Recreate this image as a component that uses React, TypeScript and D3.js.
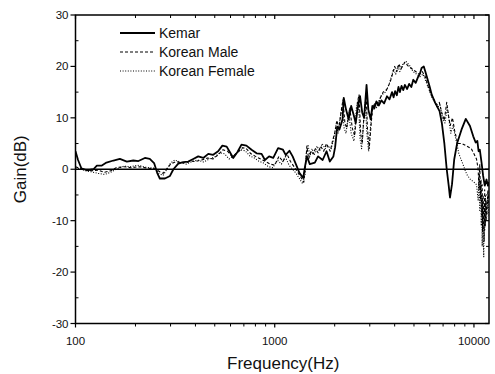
import React from 'react';
import * as d3 from 'd3';

type Pt = [number, number];

// [frequency Hz, gain dB]
const kemar: Pt[] = [
  [100, 3.5], [103, 1.8], [107, 0.2], [114, -0.2], [123, 0], [128, 0.7], [135, 0.7],
  [143, 1.3], [155, 1.7], [167, 2.0], [181, 1.5], [195, 1.7], [207, 1.6], [223, 2.2],
  [236, 2.0], [248, 1.2], [257, -0.7], [265, -1.8], [281, -1.8], [298, -1.3], [310, 0],
  [328, 1.1], [347, 1.4], [368, 1.5], [390, 2.0], [413, 2.5], [438, 2.2], [464, 3.0],
  [491, 2.8], [520, 3.5], [546, 4.6], [574, 4.4], [596, 3.3], [619, 2.2], [649, 3.3],
  [681, 4.8], [721, 4.6], [765, 3.8], [811, 3.1], [859, 3.0], [893, 1.8], [937, 2.5],
  [983, 2.2], [1040, 4.1], [1100, 3.8], [1135, 2.8], [1185, 3.6], [1230, 2.5],
  [1280, 0.9], [1330, -0.7], [1390, -1.7], [1420, 0.6], [1450, 2.5], [1500, 1.0],
  [1590, 1.3], [1650, 2.5], [1740, 1.8], [1820, 3.5], [1890, 1.5], [1970, 2.5],
  [2010, 4.3], [2060, 8.3], [2110, 7.7], [2190, 9.7], [2220, 13.9], [2280, 11.6],
  [2350, 9.7], [2420, 12.3], [2500, 10.3], [2550, 9.0], [2620, 12.3], [2680, 14.2],
  [2750, 11], [2810, 10], [2890, 16.4], [2950, 11.6], [3030, 9.7], [3090, 12.3],
  [3160, 11.8], [3240, 13.2], [3330, 12.4], [3430, 13.4], [3540, 12.8], [3660, 14.2],
  [3770, 13.6], [3880, 15.0], [3950, 14.0], [4020, 15.2], [4100, 14.4], [4180, 16.0],
  [4250, 15.0], [4330, 16.2], [4420, 15.4], [4500, 16.4], [4620, 15.6], [4730, 16.6],
  [4850, 16.0], [4960, 17.4], [5100, 16.8], [5250, 18.0], [5360, 18.6], [5460, 19.7],
  [5600, 20.0], [5700, 19.0], [5830, 17.7], [6000, 16.0], [6140, 14.5], [6390, 12.9],
  [6720, 11.3], [6900, 9.0], [7100, 5.1], [7300, 0], [7470, -3.2], [7580, -5.5],
  [7760, -2.9], [7960, 1.9], [8240, 5.1], [8660, 7.7], [9100, 9.8], [9550, 8.4],
  [9920, 6.4], [10200, 5.2], [10400, 5.5], [10550, 3.5], [10700, 3.8], [10920, 1.3],
  [11120, -1.3], [11330, -3.2], [11560, -2], [11760, -3.2], [11900, -2.5]
];

const koreanMale: Pt[] = [
  [100, 0.5], [105, 0.2], [110, 0], [120, -0.3], [130, -0.2], [140, -0.6], [150, -0.3],
  [160, 0.3], [175, 0.5], [190, 0.3], [210, 0.5], [230, 0.2], [250, 0.1], [265, -0.5],
  [275, -0.8], [290, 0.3], [300, 1.0], [320, 1.5], [340, 1.2], [360, 1.3], [380, 1.6],
  [400, 1.5], [430, 1.8], [460, 2.2], [490, 2.0], [520, 2.8], [550, 3.8], [580, 3.5],
  [610, 2.5], [650, 3.2], [690, 4.2], [720, 4.0], [760, 3.0], [800, 2.5], [850, 2.0],
  [900, 1.5], [950, 1.0], [1000, 0.8], [1050, 2.5], [1100, 1.5], [1150, 3.0], [1200, 1.5],
  [1250, 0.5], [1300, -0.5], [1350, -1.5], [1400, -2.5], [1430, 1], [1450, 4.5],
  [1480, 2], [1520, 3.5], [1560, 3], [1600, 4], [1650, 3.2], [1700, 4.5], [1760, 3.5],
  [1820, 5], [1900, 3.5], [1950, 5.5], [2000, 7], [2050, 9.5], [2100, 8], [2150, 11],
  [2200, 13.5], [2250, 9], [2300, 8], [2380, 12], [2450, 8], [2520, 6.5], [2600, 13],
  [2650, 14.5], [2700, 7], [2750, 5], [2800, 10], [2880, 14], [2920, 8], [2980, 4],
  [3050, 9], [3100, 12], [3200, 13], [3300, 12.5], [3400, 14], [3500, 15], [3650, 15.5],
  [3800, 17], [3900, 18.5], [4000, 20], [4100, 19], [4200, 20.5], [4300, 19.5],
  [4500, 20.8], [4700, 20], [4900, 19.5], [5100, 19], [5300, 18.5], [5500, 19],
  [5700, 18], [5900, 16], [6100, 14.5], [6300, 13.5], [6500, 12.5], [6700, 13],
  [6900, 11], [7100, 9.5], [7300, 13], [7450, 10.5], [7600, 8.5], [7800, 10], [8000, 7.5],
  [8300, 5], [8700, 5], [9200, 4.5], [9700, 4], [10000, 3], [10300, 2], [10500, 0],
  [10600, -4], [10700, 1], [10780, -6], [10850, -2], [10950, -9], [11000, -3],
  [11050, -12], [11120, -5], [11200, -10], [11250, -14], [11320, -4], [11400, -11],
  [11480, -6], [11600, -9], [11750, -4], [11900, -7]
];

const koreanFemale: Pt[] = [
  [100, 0.3], [106, 0], [112, -0.3], [120, -0.5], [130, -0.8], [140, -1], [150, -0.6],
  [160, 0], [175, 0.6], [190, 0.5], [205, 0.8], [225, 0.4], [250, 0.2], [262, -0.8],
  [275, -1.2], [288, 0], [300, 1.2], [315, 1.8], [335, 1.4], [360, 1.0], [385, 1.5],
  [410, 1.8], [440, 1.4], [470, 2.0], [500, 2.4], [530, 3.2], [560, 3.0], [590, 2.0],
  [630, 2.8], [670, 3.8], [710, 3.6], [750, 2.6], [790, 2.2], [830, 1.6], [880, 1.2],
  [930, 0.5], [980, 0.3], [1030, 1.8], [1080, 1.0], [1130, 2.4], [1180, 0.8], [1230, 0],
  [1280, -0.8], [1330, -1.8], [1380, -2.8], [1420, -1], [1440, 3], [1470, 4.8],
  [1500, 2.5], [1540, 4], [1580, 2.8], [1630, 4.5], [1680, 3.5], [1730, 5], [1790, 4],
  [1850, 4.5], [1920, 4], [1980, 6], [2030, 8.5], [2080, 7], [2130, 10], [2180, 12],
  [2230, 8], [2280, 7], [2350, 11], [2420, 7], [2500, 5.5], [2570, 12], [2630, 13.5],
  [2680, 6], [2730, 4], [2790, 9], [2850, 13], [2900, 7], [2960, 3.5], [3020, 8],
  [3080, 11], [3150, 12.5], [3250, 12], [3350, 13.5], [3450, 14.5], [3600, 15],
  [3750, 16.5], [3850, 18], [3950, 19.5], [4050, 18.5], [4150, 20], [4250, 19],
  [4400, 20.5], [4550, 21], [4750, 20.2], [4950, 19], [5150, 18.5], [5350, 18],
  [5550, 18.5], [5750, 17], [5950, 15.5], [6150, 14], [6350, 13], [6550, 12],
  [6750, 12.5], [6950, 10], [7150, 9], [7350, 12], [7500, 9.5], [7650, 7], [7850, 8.5],
  [8100, 6], [8400, 3], [8800, 1], [9200, -1], [9600, -2], [10000, -2.5], [10300, -3],
  [10500, -6], [10600, -1], [10700, -8], [10800, -3], [10880, -11], [10950, -5],
  [11000, -15], [11060, -6], [11120, -13], [11200, -17], [11260, -7], [11330, -12],
  [11420, -5], [11550, -10], [11700, -6], [11900, -9]
];

const yTicks = [-30, -20, -10, 0, 10, 20, 30];
const yMinor = [-25, -15, -5, 5, 15, 25];
const xTicks = [100, 1000, 10000];
const xMinor = [200, 300, 400, 500, 600, 700, 800, 900, 2000, 3000, 4000, 5000, 6000, 7000, 8000, 9000];

const series = [
  { name: 'Kemar', data: kemar, width: 1.8, dash: '' },
  { name: 'Korean Male', data: koreanMale, width: 1.1, dash: '3,2' },
  { name: 'Korean Female', data: koreanFemale, width: 1.1, dash: '1,1.6' }
];

const W = 495;
const H = 374;
const margin = { top: 15, right: 6, bottom: 50.5, left: 75.5 };

const App: React.FC = () => {
  const x = d3.scaleLog().domain([100, 11900]).range([margin.left, W - margin.right]);
  const y = d3.scaleLinear().domain([-30, 30]).range([H - margin.bottom, margin.top]);
  const line = d3.line<Pt>().x(d => x(d[0])).y(d => y(d[1]));
  const font = 'Arial, "Liberation Sans", sans-serif';
  const x0 = margin.left;
  const x1 = W - margin.right;
  const y0 = H - margin.bottom;
  const y1 = margin.top;

  return (
    <svg width={W} height={H} style={{ position: 'absolute', left: 0, top: 0, background: '#fff' }} fontFamily={font}>
      <defs>
        <clipPath id="plot">
          <rect x={x0} y={y1} width={x1 - x0} height={y0 - y1} />
        </clipPath>
      </defs>

      {/* zero line */}
      <line x1={x0} x2={x1} y1={y(0)} y2={y(0)} stroke="#000" strokeWidth={1.6} />

      <g clipPath="url(#plot)" fill="none" stroke="#000" strokeLinejoin="round">
        {series.slice().reverse().map(s => (
          <path key={s.name} d={line(s.data) || ''} strokeWidth={s.width} strokeDasharray={s.dash || undefined} />
        ))}
      </g>

      {/* frame */}
      <rect x={x0} y={y1} width={x1 - x0} height={y0 - y1} fill="none" stroke="#000" strokeWidth={1.5} />

      {/* y axis */}
      {yTicks.map(t => (
        <g key={`y${t}`}>
          <line x1={x0 - 5} x2={x0} y1={y(t)} y2={y(t)} stroke="#000" strokeWidth={1.2} />
          <line x1={x1 - 4} x2={x1} y1={y(t)} y2={y(t)} stroke="#000" strokeWidth={1.2} />
          <text x={x0 - 7} y={y(t)} dy="0.35em" textAnchor="end" fontSize={11.5} fill="#111">{t}</text>
        </g>
      ))}
      {yMinor.map(t => (
        <g key={`ym${t}`}>
          <line x1={x0} x2={x0 + 3} y1={y(t)} y2={y(t)} stroke="#000" strokeWidth={1} />
          <line x1={x1 - 3} x2={x1} y1={y(t)} y2={y(t)} stroke="#000" strokeWidth={1} />
        </g>
      ))}

      {/* x axis */}
      {xTicks.map(t => (
        <g key={`x${t}`}>
          <line x1={x(t)} x2={x(t)} y1={y0} y2={y0 + 4} stroke="#000" strokeWidth={1.2} />
          <line x1={x(t)} x2={x(t)} y1={y1} y2={y1 + 4} stroke="#000" strokeWidth={1.2} />
          <text x={x(t)} y={y0 + 21} textAnchor="middle" fontSize={11.5} fill="#111">{t}</text>
        </g>
      ))}
      {xMinor.map(t => (
        <g key={`xm${t}`}>
          <line x1={x(t)} x2={x(t)} y1={y0} y2={y0 + 3} stroke="#000" strokeWidth={1} />
          <line x1={x(t)} x2={x(t)} y1={y1} y2={y1 + 3} stroke="#000" strokeWidth={1} />
        </g>
      ))}

      {/* axis titles */}
      <text x={(x0 + x1) / 2 + 1} y={369} textAnchor="middle" fontSize={17} fill="#111">Frequency(Hz)</text>
      <text transform={`translate(26, ${y(0)}) rotate(-90)`} textAnchor="middle" fontSize={17} fill="#111">Gain(dB)</text>

      {/* legend */}
      {series.map((s, i) => {
        const ly = 33 + i * 19;
        return (
          <g key={`lg${s.name}`}>
            <line x1={120} x2={155} y1={ly} y2={ly} stroke="#000" strokeWidth={s.width} strokeDasharray={s.dash || undefined} />
            <text x={159} y={ly} dy="0.35em" fontSize={14} fill="#111">{s.name}</text>
          </g>
        );
      })}
    </svg>
  );
};

export default App;
